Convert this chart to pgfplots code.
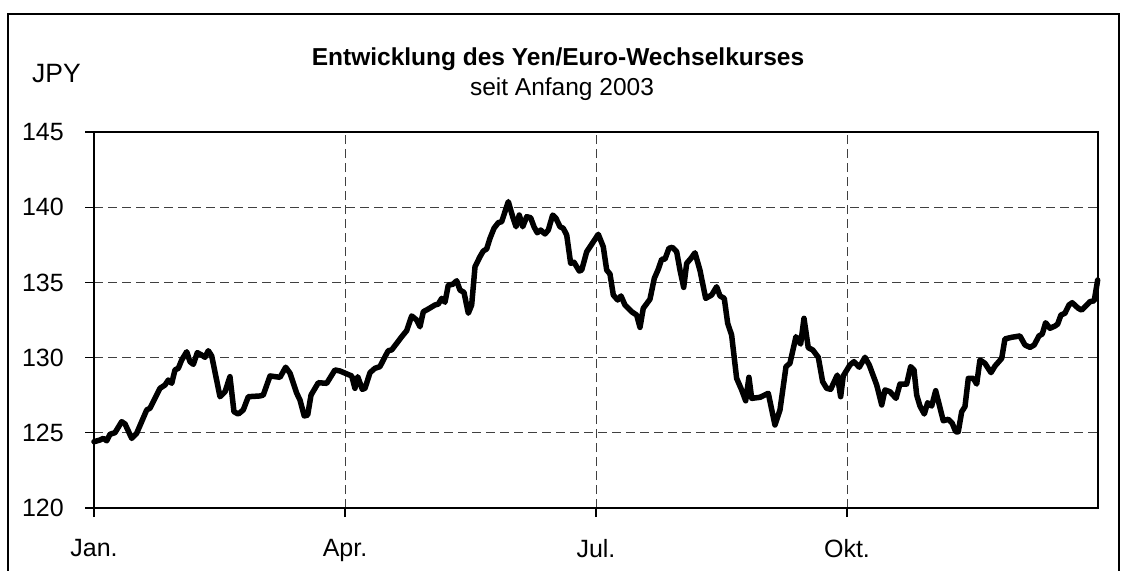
\documentclass[border=0pt]{standalone}
\usepackage{pgfplots}
\pgfplotsset{compat=1.18}
\usepackage{pgfplotstable}
\usepackage{fontspec}
\setmainfont{Liberation Sans}
\pgfplotstableread{
x y
0.000 124.41
0.072 124.52
0.111 124.63
0.152 124.47
0.191 124.90
0.251 125.01
0.331 125.74
0.371 125.59
0.451 124.63
0.510 124.97
0.630 126.52
0.669 126.63
0.789 127.96
0.849 128.18
0.888 128.51
0.929 128.29
0.968 129.18
1.008 129.29
1.048 129.84
1.108 130.39
1.147 129.73
1.187 129.55
1.235 130.33
1.287 130.17
1.327 130.02
1.366 130.46
1.407 130.11
1.506 127.40
1.566 127.73
1.625 128.73
1.673 126.40
1.725 126.25
1.784 126.52
1.844 127.40
1.984 127.45
2.023 127.51
2.104 128.78
2.223 128.69
2.291 129.36
2.343 128.96
2.423 127.63
2.462 127.18
2.513 126.12
2.554 126.18
2.594 127.51
2.681 128.33
2.781 128.29
2.880 129.18
2.940 129.11
3.080 128.78
3.119 127.96
3.152 128.73
3.207 127.89
3.239 127.96
3.299 129.00
3.358 129.29
3.418 129.40
3.478 130.06
3.517 130.46
3.558 130.51
3.678 131.39
3.737 131.79
3.797 132.77
3.857 132.50
3.896 132.05
3.936 133.05
3.995 133.23
4.076 133.50
4.115 133.56
4.156 133.94
4.195 133.68
4.235 134.83
4.287 134.87
4.335 135.11
4.374 134.49
4.422 134.34
4.474 132.95
4.514 133.50
4.554 136.04
4.613 136.71
4.653 137.09
4.693 137.22
4.733 137.93
4.781 138.60
4.832 138.97
4.873 139.04
4.952 140.37
5.004 139.37
5.044 138.70
5.083 139.48
5.124 138.70
5.172 139.37
5.219 139.30
5.259 138.70
5.298 138.30
5.339 138.48
5.390 138.22
5.430 138.48
5.482 139.48
5.522 139.26
5.570 138.70
5.609 138.60
5.650 138.15
5.697 136.27
5.737 136.34
5.800 135.76
5.829 135.82
5.889 137.04
5.948 137.53
6.027 138.20
6.087 137.37
6.128 135.82
6.167 135.56
6.207 134.16
6.259 133.83
6.299 134.10
6.346 133.50
6.426 133.05
6.486 132.83
6.526 132.01
6.565 133.28
6.645 133.88
6.697 135.27
6.744 135.87
6.785 136.54
6.824 136.54
6.872 137.27
6.912 137.33
6.964 137.04
7.004 135.82
7.048 134.67
7.084 136.27
7.135 136.60
7.183 136.97
7.242 135.82
7.311 133.94
7.382 134.16
7.442 134.71
7.482 134.10
7.533 133.94
7.574 132.28
7.621 131.50
7.681 128.62
7.741 127.85
7.789 127.13
7.828 128.69
7.861 127.29
7.960 127.36
8.059 127.63
8.139 125.52
8.199 126.52
8.271 129.40
8.318 129.62
8.390 131.39
8.446 130.90
8.486 132.61
8.537 130.66
8.590 130.51
8.657 130.02
8.709 128.40
8.757 127.96
8.805 127.89
8.884 128.84
8.924 127.40
8.955 128.78
9.035 129.51
9.083 129.73
9.147 129.36
9.215 130.02
9.266 129.51
9.355 128.18
9.415 126.85
9.454 127.85
9.514 127.73
9.586 127.29
9.633 128.24
9.713 128.24
9.761 129.40
9.801 129.18
9.833 127.51
9.872 126.78
9.924 126.25
9.964 127.00
10.012 126.78
10.060 127.80
10.151 125.80
10.211 125.90
10.258 125.63
10.299 125.07
10.330 125.07
10.371 126.40
10.410 126.74
10.450 128.62
10.510 128.62
10.550 128.24
10.589 129.84
10.649 129.62
10.721 129.00
10.769 129.44
10.849 129.95
10.888 131.24
10.968 131.35
11.067 131.44
11.127 130.84
11.187 130.68
11.238 130.84
11.294 131.44
11.334 131.57
11.374 132.32
11.426 131.95
11.486 132.10
11.518 132.23
11.557 132.83
11.605 132.95
11.653 133.50
11.692 133.65
11.764 133.28
11.805 133.16
11.844 133.38
11.904 133.72
11.955 133.78
11.996 135.16
}\yen
\begin{document}
\begin{tikzpicture}
\useasboundingbox (0pt,0pt) rectangle (1121pt,-570pt);
\draw[line width=2pt] (8pt,-590pt) -- (8pt,-14pt) -- (1119pt,-14pt) -- (1119pt,-590pt);
\node[anchor=base west, inner sep=0pt, font=\fontsize{26.5}{32}\selectfont] at (32pt,-82pt) {JPY};
\node[anchor=base, inner sep=0pt, font=\fontsize{24.5}{30}\selectfont\bfseries] at (558pt,-65pt) {Entwicklung des Yen/Euro-Wechselkurses};
\node[anchor=base, inner sep=0pt, font=\fontsize{24.5}{30}\selectfont] at (562pt,-95pt) {seit Anfang 2003};
\begin{axis}[
  at={(94pt,-508pt)}, anchor=south west,
  scale only axis, width=1004pt, height=376pt,
  xmin=0, xmax=12, ymin=120, ymax=145,
  xtick={0,3,6,9}, xticklabels={Jan.,Apr.,Jul.,Okt.},
  ytick={120,125,130,135,140,145},
  xtick pos=left, ytick pos=left,
  tick align=outside, major tick length=9pt,
  tick style={black, line width=1.2pt},
  axis line style={black, line width=2.8pt},
  grid=major,
  major grid style={black!75, line width=1pt, dash pattern=on 9pt off 5pt},
  /pgf/number format/assume math mode=true,
  ticklabel style={font=\fontsize{25}{30}\selectfont},
  yticklabel style={anchor=east, inner sep=0pt, xshift=-21pt},
  xticklabel style={anchor=north, inner sep=0pt, yshift=-22pt},
  clip=false,
]
\addplot[black, line width=5.5pt, line join=round, line cap=round] table[x=x, y=y] {\yen};
\end{axis}
\end{tikzpicture}
\end{document}
